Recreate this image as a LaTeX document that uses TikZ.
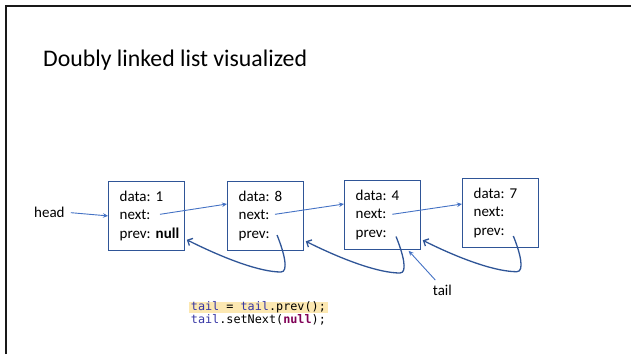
\documentclass[tikz,border=0pt]{standalone}
\usepackage{fontspec}
\setmainfont{Carlito}
\newfontfamily\codefont{DejaVu Sans Mono}
\usetikzlibrary{arrows.meta,calc}
\definecolor{boxblue}{RGB}{47,85,151}
\definecolor{linkblue}{RGB}{68,114,196}
\definecolor{backblue}{RGB}{47,85,151}
\definecolor{fieldcol}{RGB}{55,55,165}
\definecolor{kwcol}{RGB}{127,0,85}
\definecolor{markcol}{RGB}{252,232,178}
\frenchspacing

\begin{document}
\begin{tikzpicture}[x=1pt,y=-1pt,
  listbox/.style={draw=boxblue, line width=1.3pt, anchor=north west,
    minimum width=76pt, minimum height=68.5pt, text width=54pt,
    inner xsep=11pt, inner ysep=0pt, align=left,
    font=\fontsize{15}{18.7}\selectfont},
  label text/.style={anchor=base west, inner sep=0pt, font=\fontsize{15}{18}\selectfont},
  codeline/.style={anchor=base west, inner xsep=2pt, inner ysep=0pt,
    text height=9pt, text depth=2pt, font=\codefont\fontsize{11.8}{12.5}\selectfont},
  ptr/.style={draw=linkblue, line width=0.9pt, -{Stealth[length=5pt,width=4.5pt]}},
  backptr/.style={draw=backblue, line width=1.3pt, -{Straight Barb[length=4pt,width=8pt]}}
]
\useasboundingbox (0,0) rectangle (631,354);

% slide frame (left and top edges)
\draw[line width=2.2pt, black!90] (6,354) -- (6,6) -- (631,6);

% title
\node[anchor=base west, inner sep=0pt, font=\fontsize{23.8}{28}\selectfont] (title) at (43,66.7)
  {Doubly linked list visualized};

% list nodes
\node[listbox] (n1) at (108,181) {data: 1\\next:\\prev:~\textbf{null}};
\node[listbox] (n2) at (227,181) {data: 8\\next:\\prev:};
\node[listbox] (n3) at (344,180) {data: 4\\next:\\prev:};
\node[listbox] (n4) at (462,178) {data: 7\\next:\\prev:};

% head reference
\node[label text] (head) at (34,217.3) {head};
\draw[ptr, shorten <=6pt] (head.east) -- (n1.west);

% next pointers
\coordinate (n1next) at ($(n1.north west)+(52,33.3)$);
\coordinate (n2in)   at ($(n2.north west)+(0,23)$);
\coordinate (n2next) at ($(n2.north west)+(48,33.3)$);
\coordinate (n3in)   at ($(n3.north west)+(0,24)$);
\coordinate (n3next) at ($(n3.north west)+(48.3,34.3)$);
\coordinate (n4in)   at ($(n4.north west)+(0,26)$);
\draw[ptr] (n1next) -- (n2in);
\draw[ptr] (n2next) -- (n3in);
\draw[ptr] (n3next) -- (n4in);

% prev pointers, looping under each node back to its predecessor
\coordinate (n2prev) at ($(n2.north west)+(50,54)$);
\coordinate (n1back) at ($(n1.south east)+(1.5,-11)$);
\coordinate (n3prev) at ($(n3.north west)+(52,56.5)$);
\coordinate (n2back) at ($(n2.south east)+(1.5,-9.5)$);
\coordinate (n4prev) at ($(n4.north west)+(51.3,58)$);
\coordinate (n3back) at ($(n3.south east)+(1.5,-9.5)$);
\draw[backptr] (n2prev) .. controls +(7,17) and +(8,0) .. ++(4,37)
  .. controls +(-20,0) and +(40,20) .. (n1back);
\draw[backptr] (n3prev) .. controls +(7,17) and +(8,0) .. ++(4,36.5)
  .. controls +(-20,0) and +(40,20) .. (n2back);
\draw[backptr] (n4prev) .. controls +(7,17) and +(8,0) .. ++(3.5,35.7)
  .. controls +(-20,0) and +(40,20) .. (n3back);

% tail reference
\node[label text] (tail) at (432.7,295.7) {tail};
\coordinate (tailfrom) at ($(tail.north)+(-7,-5)$);
\coordinate (n3under) at ($(n3.south)+(26,1)$);
\draw[ptr] (tailfrom) -- (n3under);

% code
\node[codeline, fill=markcol] (code1) at (188.7,310.5)
  {{\color{fieldcol}tail} = {\color{fieldcol}tail}.prev();};
\node[codeline] (code2) at (188.7,323)
  {{\color{fieldcol}tail}.setNext({\color{kwcol}\bfseries null});};
\end{tikzpicture}
\end{document}
